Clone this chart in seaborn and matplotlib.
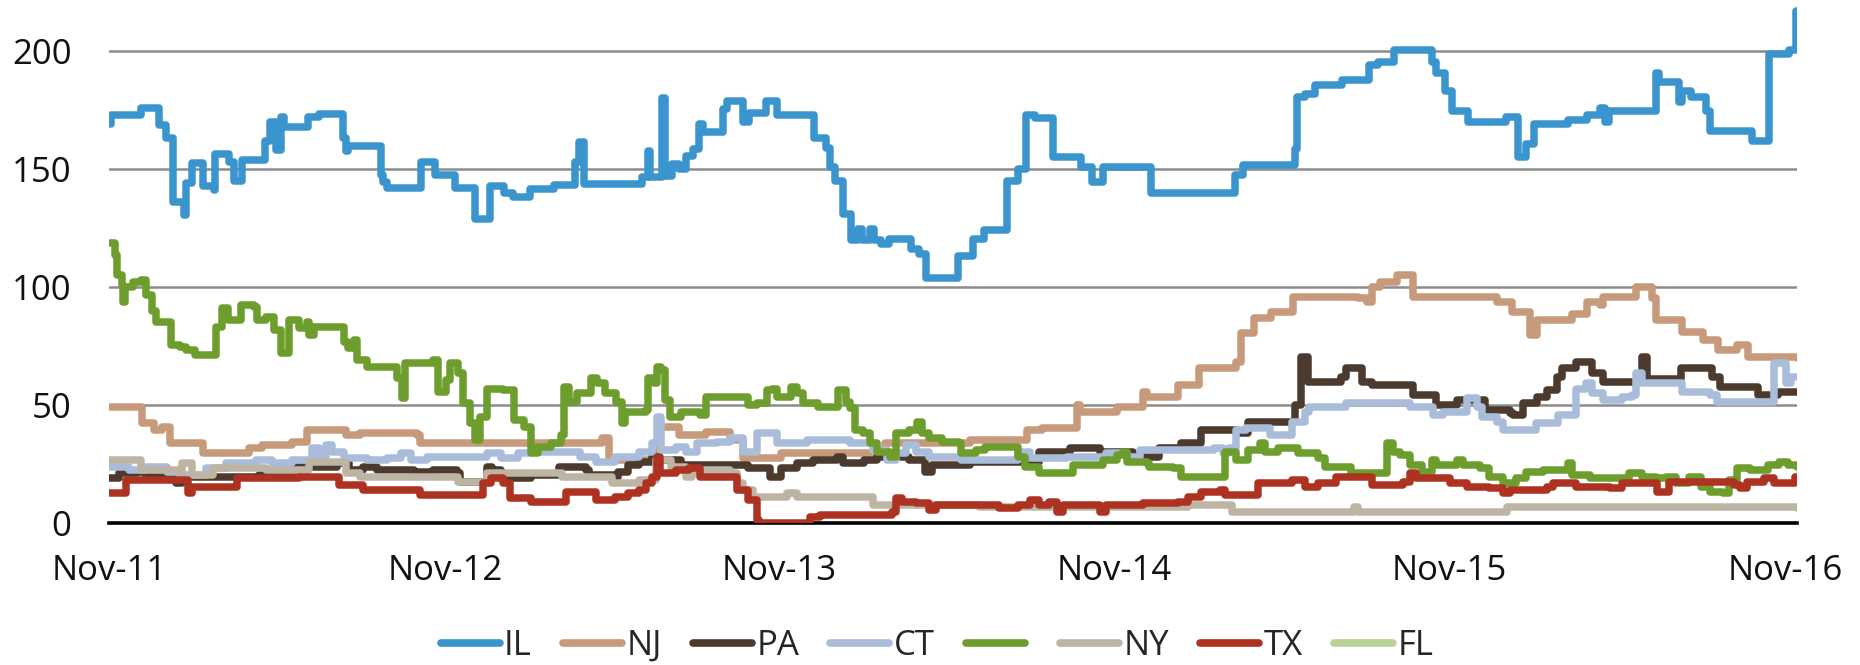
import pandas as pd
import matplotlib.pyplot as plt
import matplotlib.dates as mdates
from matplotlib.lines import Line2D
from matplotlib import font_manager
import seaborn as sns

# Series: dates where the level changes, and the new level
IL_DATES = ["2011-11-01", "2011-11-03", "2011-12-06", "2011-12-26", "2012-01-02", "2012-01-10", "2012-01-22",
            "2012-01-24", "2012-01-30", "2012-02-11", "2012-02-23", "2012-02-24", "2012-03-11", "2012-03-16",
            "2012-03-25", "2012-04-19", "2012-04-24", "2012-05-01", "2012-05-07", "2012-05-10", "2012-06-05",
            "2012-06-17", "2012-07-13", "2012-07-16", "2012-07-18", "2012-08-24", "2012-08-26", "2012-08-30",
            "2012-10-06", "2012-10-21", "2012-11-12", "2012-12-04", "2012-12-20", "2013-01-05", "2013-01-14",
            "2013-02-02", "2013-02-28", "2013-03-23", "2013-03-27", "2013-04-02", "2013-06-04", "2013-06-11",
            "2013-06-13", "2013-06-26", "2013-06-29", "2013-07-07", "2013-07-14", "2013-07-22", "2013-07-30",
            "2013-08-05", "2013-08-10", "2013-08-31", "2013-09-05", "2013-09-22", "2013-09-29", "2013-10-17",
            "2013-10-29", "2013-12-09", "2013-12-22", "2013-12-26", "2013-12-31", "2014-01-09", "2014-01-18",
            "2014-01-25", "2014-01-30", "2014-02-08", "2014-02-12", "2014-02-20", "2014-02-28", "2014-03-24",
            "2014-04-02", "2014-04-10", "2014-05-14", "2014-05-31", "2014-06-12", "2014-07-07", "2014-07-19",
            "2014-07-28", "2014-08-06", "2014-08-26", "2014-09-25", "2014-10-08", "2014-10-20", "2014-12-11",
            "2015-03-12", "2015-03-21", "2015-05-17", "2015-05-19", "2015-05-28", "2015-06-08", "2015-07-07",
            "2015-08-06", "2015-08-15", "2015-09-02", "2015-10-13", "2015-10-17", "2015-10-27", "2015-11-04",
            "2015-11-21", "2016-01-02", "2016-01-15", "2016-01-24", "2016-02-01", "2016-03-09", "2016-03-30",
            "2016-04-13", "2016-04-19", "2016-04-23", "2016-06-13", "2016-06-17", "2016-07-08", "2016-07-12",
            "2016-07-21", "2016-08-07", "2016-08-11", "2016-09-26", "2016-10-15", "2016-11-05", "2016-11-13",
            "2016-11-14"]
IL_VALUES = [169, 173, 176, 168.5, 163, 136, 130.5,
             144, 152.5, 143, 141, 156.5, 153, 145,
             154, 162, 170, 158, 172, 168, 172,
             173.5, 163, 157.6, 160, 147.5, 144.6, 142,
             153, 147.5, 142, 129, 143, 140, 138,
             141.7, 143.4, 153, 161.5, 143.5, 146.6, 157.6,
             146.6, 180, 147, 152, 150, 155.7, 158.6,
             169, 165.8, 175.5, 179, 170, 174, 179,
             173, 163, 159, 151, 145, 131, 119.8,
             124.8, 119.8, 124.8, 119.8, 118.4, 120.5, 116,
             114, 104, 113, 120.5, 124, 145, 150,
             173, 171.6, 155, 151, 144.6, 151, 140,
             147.6, 151.9, 158.6, 180.6, 182, 185.6, 187.8,
             194, 195.5, 200.4, 195.5, 190.6, 183, 174.7,
             170, 172.3, 155, 160.7, 169, 171, 173,
             176, 170, 174.7, 190.6, 187, 178.6, 183,
             180.6, 174.7, 166, 162, 199, 200.4, 217,
             217]

NJ_DATES = ["2011-11-01", "2011-12-07", "2011-12-20", "2011-12-29", "2012-01-06", "2012-02-11", "2012-04-02",
            "2012-04-16", "2012-05-18", "2012-06-04", "2012-07-16", "2012-08-01", "2012-10-02", "2012-10-05",
            "2013-04-21", "2013-04-29", "2013-06-22", "2013-07-14", "2013-08-13", "2013-09-08", "2013-09-22",
            "2013-11-02", "2014-02-24", "2014-05-27", "2014-07-29", "2014-08-14", "2014-09-21", "2014-09-24",
            "2014-11-04", "2014-12-02", "2014-12-06", "2015-01-09", "2015-02-01", "2015-03-13", "2015-03-19",
            "2015-04-02", "2015-04-21", "2015-05-15", "2015-07-25", "2015-08-03", "2015-08-09", "2015-08-17",
            "2015-09-05", "2015-09-22", "2015-12-23", "2016-01-08", "2016-01-28", "2016-02-05", "2016-03-14",
            "2016-03-30", "2016-04-13", "2016-04-16", "2016-05-23", "2016-06-09", "2016-06-13", "2016-07-12",
            "2016-08-04", "2016-08-20", "2016-09-10", "2016-09-22", "2016-11-14"]
NJ_VALUES = [49.3, 42.2, 39.4, 40.8, 33.8, 29.5, 31.6,
             33, 34.5, 39.4, 37.3, 38.3, 37.3, 33.8,
             36, 26.7, 40.8, 37.3, 38.7, 35.2, 27.4,
             29.5, 33.8, 35.2, 39.4, 40.1, 50, 47.2,
             49.3, 55.6, 53.5, 58.5, 65.5, 68.4, 80.4,
             86.7, 89.5, 95.9, 95.2, 93.8, 100.1, 102.3,
             105.1, 95.9, 93.8, 89.5, 79.7, 86, 88.8,
             93.8, 92.4, 95.9, 100.1, 95.2, 86, 81.1,
             77.5, 73.3, 75.4, 70.5, 69.8]

PA_DATES = ["2011-11-01", "2011-11-12", "2011-12-01", "2011-12-11", "2012-01-13", "2012-01-20", "2012-04-13",
            "2012-05-23", "2012-07-07", "2012-07-20", "2012-08-04", "2012-08-19", "2012-09-28", "2012-10-19",
            "2012-11-14", "2012-11-18", "2012-12-17", "2012-12-23", "2013-01-01", "2013-02-03", "2013-03-05",
            "2013-04-04", "2013-04-07", "2013-05-06", "2013-05-09", "2013-05-20", "2013-06-01", "2013-06-15",
            "2013-06-24", "2013-07-17", "2013-09-27", "2013-10-22", "2013-11-02", "2013-11-20", "2013-12-07",
            "2014-01-03", "2014-01-09", "2014-02-01", "2014-02-15", "2014-03-22", "2014-04-09", "2014-04-16",
            "2014-05-27", "2014-08-11", "2014-09-13", "2014-10-16", "2014-11-21", "2014-12-20", "2015-01-12",
            "2015-02-03", "2015-03-13", "2015-03-27", "2015-05-17", "2015-05-23", "2015-05-31", "2015-07-06",
            "2015-07-11", "2015-07-29", "2015-08-09", "2015-09-22", "2015-10-18", "2015-11-09", "2015-12-10",
            "2016-01-06", "2016-01-09", "2016-01-20", "2016-02-05", "2016-02-15", "2016-02-26", "2016-03-03",
            "2016-03-18", "2016-04-05", "2016-04-16", "2016-05-29", "2016-06-04", "2016-07-11", "2016-08-13",
            "2016-08-22", "2016-10-02", "2016-10-24", "2016-11-14"]
PA_VALUES = [18.9, 21, 21.8, 19.6, 16.8, 19.6, 20.3,
             23.9, 25.3, 22.5, 23.9, 22.5, 21.8, 22.5,
             21, 17.5, 23.9, 22.5, 18.9, 20.3, 23.9,
             22.5, 20.3, 19.6, 21.8, 24.6, 26, 28.1,
             26.7, 24.6, 23.2, 19.6, 23.2, 25.3, 26.7,
             28.1, 25.3, 26.7, 28.1, 26.7, 21.8, 24.6,
             26, 30.2, 31.6, 30.2, 28.1, 31.6, 33.8,
             39.4, 38, 42.9, 50, 70.5, 59.9, 62,
             65.5, 59.9, 58.5, 54.2, 50, 52.1, 47.9,
             46.5, 45.8, 50.7, 53.5, 56.4, 62, 65.5,
             68.4, 63.4, 59.9, 70.5, 60.9, 65.5, 62,
             57.8, 54.2, 55.6, 55.6]

CT_DATES = ["2011-11-01", "2011-11-23", "2011-12-11", "2012-01-03", "2012-01-17", "2012-02-15", "2012-03-08",
            "2012-04-09", "2012-04-27", "2012-05-18", "2012-06-09", "2012-06-17", "2012-06-25", "2012-07-01",
            "2012-07-14", "2012-08-08", "2012-08-30", "2012-09-14", "2012-09-25", "2012-10-13", "2012-12-17",
            "2013-01-01", "2013-01-20", "2013-02-03", "2013-03-28", "2013-04-15", "2013-05-06", "2013-06-01",
            "2013-06-15", "2013-06-20", "2013-06-25", "2013-07-11", "2013-07-22", "2013-08-03", "2013-08-25",
            "2013-09-08", "2013-09-22", "2013-10-07", "2013-10-29", "2013-12-01", "2014-01-17", "2014-02-11",
            "2014-02-26", "2014-03-08", "2014-03-19", "2014-03-30", "2014-04-13", "2014-05-18", "2014-07-19",
            "2014-08-01", "2014-09-10", "2014-10-23", "2014-11-15", "2014-11-29", "2015-02-17", "2015-02-27",
            "2015-03-06", "2015-03-13", "2015-03-24", "2015-04-20", "2015-05-13", "2015-05-28", "2015-06-01",
            "2015-07-11", "2015-09-19", "2015-10-14", "2015-10-25", "2015-11-20", "2015-12-01", "2015-12-07",
            "2015-12-23", "2015-12-29", "2016-02-03", "2016-02-27", "2016-03-18", "2016-03-29", "2016-04-05",
            "2016-04-16", "2016-05-07", "2016-05-18", "2016-05-23", "2016-05-29", "2016-07-12", "2016-08-11",
            "2016-08-19", "2016-10-20", "2016-11-02", "2016-11-07", "2016-11-14"]
CT_VALUES = [23.9, 22.5, 23.9, 21.8, 20.3, 23.2, 25.3,
             26.7, 25.3, 26.7, 31.6, 28.1, 33, 30.2,
             27.4, 26.7, 27.4, 29.5, 26.7, 28.1, 29.5,
             27.4, 29.5, 30.2, 28.1, 26, 28.1, 30.2,
             33.8, 45, 30.9, 32.3, 30.2, 33.8, 34.5,
             35.9, 30.2, 38, 33.8, 35.2, 33.8, 30.9,
             26.7, 29.5, 33, 30.2, 28.1, 26.7, 30.2,
             27.4, 28.1, 29.5, 28.1, 30.9, 31.6, 29.5,
             31.6, 39.4, 40.1, 37.3, 42.9, 47.2, 49.3,
             50.7, 49.3, 45.8, 47.2, 52.8, 49.3, 45,
             42.9, 39.4, 42.2, 45.8, 57, 59.2, 54.9,
             52.1, 53.5, 54.2, 63.4, 59.2, 55.6, 54.2,
             51.4, 67.7, 59.2, 62, 62]

# the green series has no name in the legend
GREEN_DATES = ["2011-11-01", "2011-11-07", "2011-11-10", "2011-11-15", "2011-11-16", "2011-11-18", "2011-11-27",
               "2011-12-06", "2011-12-11", "2011-12-18", "2011-12-22", "2012-01-08", "2012-01-17", "2012-01-24",
               "2012-02-03", "2012-02-26", "2012-03-03", "2012-03-10", "2012-03-24", "2012-04-07", "2012-04-10",
               "2012-04-20", "2012-04-29", "2012-05-07", "2012-05-15", "2012-05-26", "2012-06-04", "2012-06-06",
               "2012-06-11", "2012-07-14", "2012-07-19", "2012-07-25", "2012-07-28", "2012-08-08", "2012-09-10",
               "2012-09-15", "2012-09-19", "2012-10-19", "2012-10-25", "2012-11-02", "2012-11-07", "2012-11-15",
               "2012-11-21", "2012-11-29", "2012-12-04", "2012-12-09", "2012-12-17", "2013-01-04", "2013-01-15",
               "2013-01-26", "2013-02-03", "2013-02-11", "2013-02-25", "2013-03-08", "2013-03-11", "2013-03-16",
               "2013-03-25", "2013-04-09", "2013-04-16", "2013-04-25", "2013-05-07", "2013-05-13", "2013-05-17",
               "2013-06-08", "2013-06-11", "2013-06-17", "2013-06-20", "2013-06-25", "2013-06-29", "2013-07-05",
               "2013-07-17", "2013-08-06", "2013-08-13", "2013-09-27", "2013-10-07", "2013-10-18", "2013-10-24",
               "2013-10-29", "2013-11-13", "2013-11-20", "2013-11-26", "2013-12-13", "2014-01-04", "2014-01-12",
               "2014-01-17", "2014-01-22", "2014-01-31", "2014-02-08", "2014-02-15", "2014-03-01", "2014-03-08",
               "2014-03-22", "2014-03-31", "2014-04-05", "2014-04-13", "2014-04-27", "2014-05-15", "2014-05-18",
               "2014-06-03", "2014-06-13", "2014-07-19", "2014-07-27", "2014-08-11", "2014-09-17", "2014-10-19",
               "2014-11-04", "2014-11-10", "2014-11-15", "2014-12-06", "2014-12-09", "2015-01-04", "2015-01-12",
               "2015-03-02", "2015-03-13", "2015-03-27", "2015-04-09", "2015-04-14", "2015-04-28", "2015-05-20",
               "2015-06-11", "2015-06-19", "2015-07-17", "2015-08-25", "2015-09-01", "2015-09-08", "2015-09-19",
               "2015-10-02", "2015-10-13", "2015-10-18", "2015-11-09", "2015-11-16", "2015-12-04", "2015-12-14",
               "2015-12-29", "2016-01-13", "2016-01-24", "2016-02-11", "2016-03-09", "2016-03-14", "2016-04-02",
               "2016-05-15", "2016-05-29", "2016-06-13", "2016-06-24", "2016-07-05", "2016-07-19", "2016-08-01",
               "2016-08-11", "2016-08-25", "2016-09-01", "2016-09-10", "2016-09-24", "2016-10-13", "2016-10-25",
               "2016-11-04", "2016-11-14"]
GREEN_VALUES = [118.5, 113.6, 105, 100.8, 93.8, 100, 102,
                103, 96.6, 90, 85.3, 75.4, 74.7, 73.3,
                71.2, 83.2, 91, 86, 92.4, 91.7, 86,
                87.4, 81.8, 71.9, 86, 82.5, 85.3, 79.7,
                83.2, 76.8, 74, 77.5, 69, 66.2, 61.3,
                52.8, 67.7, 69, 55.6, 60.6, 67.7, 63.4,
                50.7, 42.2, 35.2, 45, 57, 56.4, 43.6,
                40.8, 29.5, 32.3, 33.8, 37.3, 57.8, 51.4,
                55, 61.3, 59.2, 55, 51.4, 42.2, 47.2,
                47.9, 61.3, 59.2, 66.2, 64.8, 52.1, 45,
                47.2, 45.8, 53.5, 50, 50.7, 56.4, 57,
                53.5, 57.8, 55, 50.7, 49.3, 56.4, 51.4,
                48.6, 39.4, 38, 33.8, 30.2, 28.1, 38,
                39.4, 43, 38, 35.9, 34.5, 33.8, 29.5,
                30.9, 32.3, 28.1, 23.9, 21, 24.6, 26.7,
                28.8, 30.2, 26, 25.3, 23.9, 23.2, 19.6,
                30.2, 26.7, 30.9, 33.8, 30.2, 31.6, 29.5,
                27.4, 23.9, 21, 33.8, 30.2, 28.8, 24.6,
                21.8, 26.7, 24.6, 26.7, 24.6, 23.2, 19.6,
                16.8, 18.9, 21.8, 22.5, 25.3, 20.3, 18.9,
                21, 19.6, 18.9, 19.6, 16.8, 19.6, 15.4,
                13.3, 12.6, 18.2, 23.2, 22.5, 24.6, 26,
                24.6, 23.9]

NY_DATES = ["2011-11-01", "2011-12-06", "2012-01-17", "2012-01-20", "2012-01-31", "2012-02-22", "2012-04-20",
            "2012-06-06", "2012-07-16", "2012-08-01", "2012-11-15", "2012-12-17", "2013-03-09", "2013-05-02",
            "2013-06-01", "2013-06-19", "2013-07-06", "2013-07-22", "2013-07-28", "2013-08-06", "2013-09-08",
            "2013-09-16", "2013-09-22", "2013-10-03", "2013-11-09", "2013-11-20", "2014-02-11", "2014-06-06",
            "2015-01-20", "2015-03-09", "2015-07-20", "2015-07-25", "2016-01-03", "2016-11-14"]
NY_VALUES = [26.7, 22.5, 19.6, 25.3, 20.3, 23.2, 22.5,
             26, 21, 19.6, 17.5, 21, 19.6, 16.8,
             18.2, 26.7, 23.9, 19.6, 21.8, 22.5, 21,
             16.8, 14, 11.2, 12.6, 11.2, 7.6, 6.9,
             7.6, 4.8, 6.9, 4.8, 6.6, 6.2]

TX_DATES = ["2011-11-01", "2011-11-20", "2012-01-26", "2012-01-30", "2012-03-19", "2012-05-26", "2012-07-09",
            "2012-08-04", "2012-10-05", "2012-12-13", "2012-12-21", "2013-01-04", "2013-01-11", "2013-02-03",
            "2013-03-13", "2013-04-15", "2013-05-06", "2013-05-20", "2013-06-01", "2013-06-08", "2013-06-15",
            "2013-06-20", "2013-06-24", "2013-07-11", "2013-07-25", "2013-08-06", "2013-09-16", "2013-09-27",
            "2013-10-07", "2013-10-10", "2013-12-04", "2013-12-15", "2014-03-03", "2014-03-08", "2014-03-14",
            "2014-03-30", "2014-04-13", "2014-04-21", "2014-06-28", "2014-07-19", "2014-08-01", "2014-08-11",
            "2014-08-22", "2014-08-30", "2014-09-06", "2014-10-16", "2014-10-23", "2014-12-02", "2015-01-09",
            "2015-01-20", "2015-02-03", "2015-02-24", "2015-03-02", "2015-04-07", "2015-05-13", "2015-05-28",
            "2015-06-11", "2015-06-30", "2015-08-09", "2015-09-11", "2015-09-19", "2015-09-26", "2015-11-02",
            "2015-11-20", "2015-12-14", "2015-12-29", "2016-01-06", "2016-02-15", "2016-02-22", "2016-03-18",
            "2016-04-24", "2016-05-07", "2016-06-14", "2016-06-27", "2016-09-06", "2016-09-13", "2016-09-21",
            "2016-10-09", "2016-10-20", "2016-11-12", "2016-11-14"]
TX_VALUES = [12.6, 18.2, 12.6, 15.4, 18.9, 19.6, 16.1,
             14, 11.9, 16.8, 18.9, 16.8, 10.5, 9,
             13.3, 9.7, 11.2, 12.6, 14, 16.8, 19.6,
             27.4, 21, 22.5, 23.2, 19.6, 14, 9.7,
             1.3, 0.1, 2.7, 3.4, 4.8, 10.5, 9,
             8.3, 5.5, 7.6, 6.2, 7.6, 9.7, 7.6,
             9, 4.8, 7.6, 4.8, 7.6, 8.3, 9,
             11.2, 13.3, 14, 11.9, 16.8, 18.2, 15.4,
             16.8, 19.6, 16.1, 17.5, 21, 18.9, 16.8,
             15.4, 14.7, 12.6, 14, 15.4, 16.8, 15.4,
             14.7, 16.8, 13.3, 17.5, 16.1, 14.7, 17.5,
             18.9, 16.8, 19.6, 19.6]

# FL sits underneath the other lines and never shows
FL_DATES = []
FL_VALUES = []

SERIES = ["IL", "NJ", "PA", "CT", "", "NY", "TX", "FL"]
COLORS = ["#3a94cd", "#c69a7a", "#4b3a2d", "#a9bddb", "#6c9d2d", "#bdb4a3", "#ae3221", "#b8d29a"]
DATA = {
    "IL": (IL_DATES, IL_VALUES),
    "NJ": (NJ_DATES, NJ_VALUES),
    "PA": (PA_DATES, PA_VALUES),
    "CT": (CT_DATES, CT_VALUES),
    "": (GREEN_DATES, GREEN_VALUES),
    "NY": (NY_DATES, NY_VALUES),
    "TX": (TX_DATES, TX_VALUES),
    "FL": (FL_DATES, FL_VALUES),
}

sns.set_style("white")
names = {f.name for f in font_manager.fontManager.ttflist}
FONT = "Liberation Sans Narrow" if "Liberation Sans Narrow" in names else "Open Sans"
plt.rcParams["font.family"] = [FONT, "DejaVu Sans"]
FS = 30 if FONT == "Liberation Sans Narrow" else 25

fig = plt.figure(figsize=(18.6, 6.65), dpi=100)
ax = fig.add_axes([109 / 1860, 142 / 665, 1688 / 1860, 519 / 665])

# FL first so everything else is drawn on top of it
order = ["FL", "IL", "NJ", "PA", "CT", "", "NY", "TX"]
for name in order:
    dates, values = DATA[name]
    if not dates:
        continue
    df = pd.DataFrame({"date": pd.to_datetime(dates), "value": values})
    sns.lineplot(data=df, x="date", y="value", ax=ax, color=COLORS[SERIES.index(name)],
                 drawstyle="steps-post", legend=False, zorder=3)
    ax.lines[-1].set_linewidth(5.4)

ax.set_xlim(pd.Timestamp("2011-11-01"), pd.Timestamp("2016-11-14"))
ax.set_ylim(0, 220)
ax.set_yticks([0, 50, 100, 150, 200])
ax.set_xticks(pd.to_datetime([f"{y}-11-01" for y in range(2011, 2017)]))
ax.xaxis.set_major_formatter(mdates.DateFormatter("%b-%y"))
ax.set_xlabel("")
ax.set_ylabel("")

ax.yaxis.grid(True, color="#8c8c8c", lw=1.8)
ax.xaxis.grid(False)
ax.set_axisbelow(True)
for side in ["top", "right", "left"]:
    ax.spines[side].set_visible(False)
ax.spines["bottom"].set_color("black")
ax.spines["bottom"].set_linewidth(2.6)
ax.spines["bottom"].set_zorder(2)

ax.tick_params(axis="both", length=0, labelsize=FS, colors="#111111")
ax.tick_params(axis="y", pad=27)
ax.tick_params(axis="x", pad=22)

handles = [Line2D([0], [0], color=c, lw=5.5) for c in COLORS]
fig.legend(handles, SERIES, loc="center", bbox_to_anchor=(937 / 1860, 1 - 646 / 665), ncol=8,
           frameon=False, fontsize=FS, handlelength=1.7, handletextpad=0.12, columnspacing=0.9,
           borderpad=0)

fig.savefig("out.png", dpi=100)
